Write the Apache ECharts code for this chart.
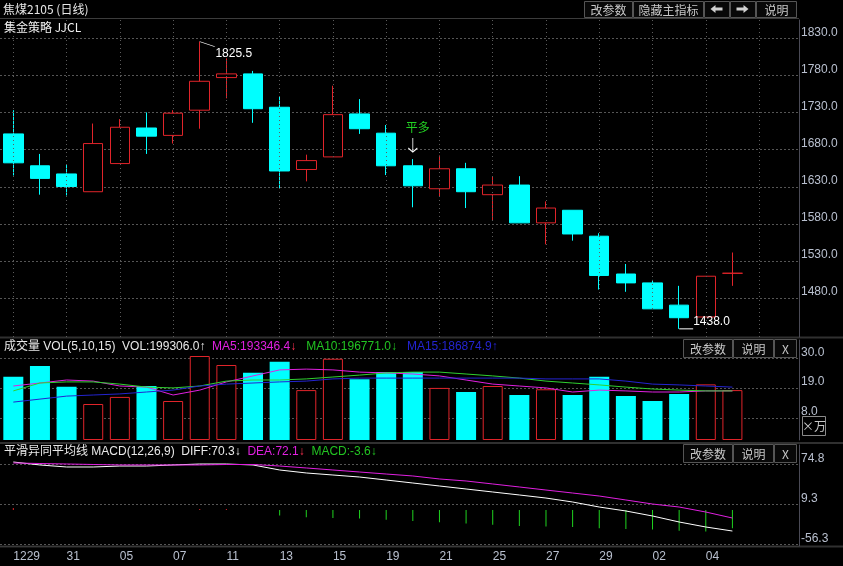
<!DOCTYPE html>
<html>
<head>
<meta charset="utf-8">
<script src="https://cdn.jsdelivr.net/npm/echarts@6/dist/echarts.min.js"></script>
<style>
html, body { margin: 0; padding: 0; background: #000; }
#main { width: 843px; height: 566px; }
</style>
</head>
<body>
<div id="main"></div>
<script>
// 日期标签 (两个空位留在右侧)
var dateLabels = ['1229', '30', '31', '04', '05', '06', '07', '08', '11', '12', '13', '14', '15', '18', '19',
    '20', '21', '22', '25', '26', '27', '28', '29', '01', '02', '03', '04', '05', '', ''];

// K线
var openP = [1701, 1658, 1647, 1623, 1661, 1709, 1699, 1733, 1777, 1782, 1737, 1653, 1670, 1728, 1702,
    1658, 1627, 1654, 1619, 1632, 1581, 1598, 1563, 1512, 1500, 1470, 1454, 1513];
var closeP = [1662, 1641, 1630, 1688, 1710, 1698, 1729, 1772, 1782, 1735, 1651, 1665, 1727, 1708, 1658,
    1631, 1654, 1623, 1632, 1581, 1601, 1566, 1510, 1500, 1465, 1453, 1509, 1513];
var highP = [1733, 1674, 1659, 1715, 1721, 1730, 1733, 1825.5, 1803, 1786, 1752, 1673, 1766, 1748, 1713,
    1667, 1672, 1662, 1644, 1644, 1610, 1598, 1567, 1525.5, 1504, 1496, 1509, 1541];
var lowP = [1645, 1619, 1618, 1623, 1661, 1674, 1688, 1708, 1749, 1716, 1627, 1637, 1670, 1701, 1645.5,
    1602, 1616, 1601, 1584, 1581, 1552, 1557, 1491, 1488, 1465, 1438, 1454, 1496];

// 成交量 (万)
var vol = [23.2, 27.1, 19.5, 13.2, 15.8, 19.8, 14.3, 30.8, 27.5, 24.7, 28.7, 18.3, 29.8, 22.3, 24.9,
    24.9, 19.1, 17.6, 19.8, 16.5, 18.6, 16.5, 23.2, 16.1, 14.3, 16.9, 20.4, 18.3];
var ma5 = [19.8, 20.9, 22.0, 21.6, 19.8, 19.4, 16.5, 18.3, 21.3, 23.5, 25.7, 26.0, 25.7, 24.9, 24.6,
    24.2, 23.5, 22.0, 20.5, 19.8, 19.1, 17.6, 18.3, 18.0, 17.6, 17.6, 18.0, 18.0];
var ma10 = [18.0, 20.9, 21.3, 21.3, 20.5, 19.4, 19.1, 19.8, 21.6, 22.0, 22.0, 22.4, 23.1, 23.8, 24.6,
    24.9, 24.9, 24.2, 23.5, 22.7, 21.6, 20.9, 20.2, 19.4, 18.7, 18.3, 18.0, 18.0];
var ma15 = [13.9, 15.0, 16.1, 16.5, 16.9, 17.6, 18.3, 19.8, 20.5, 20.9, 21.3, 21.6, 22.4, 22.7, 22.7,
    22.7, 22.7, 22.7, 22.7, 22.7, 22.4, 22.4, 22.4, 21.6, 20.5, 20.2, 19.8, 19.4];

// MACD
var diff = [78.6, 73.7, 70.4, 70.4, 72.0, 72.0, 73.7, 75.3, 75.3, 73.7, 65.5, 60.6, 57.3, 54.0, 49.1,
    44.2, 39.3, 34.4, 29.5, 24.6, 19.6, 13.1, 4.9, -1.6, -9.8, -19.6, -27.8, -34.4];
var dea = [77.0, 76.1, 75.3, 74.5, 73.7, 73.7, 73.7, 73.7, 74.5, 74.5, 72.0, 68.8, 65.5, 62.2, 58.9,
    55.7, 50.8, 47.5, 42.6, 37.7, 32.7, 27.8, 22.9, 16.4, 9.8, 4.9, -3.3, -13.1];
var macd = [3.2, 0, 0, 0, 0, 0, 0, 1.6, 1.6, 0, -9, -12, -13, -14, -16, -18, -20, -22, -24, -26,
    -27, -28, -30, -31, -32, -34, -35, -30];

// 坐标刻度
var priceTicks = [1480, 1530, 1580, 1630, 1680, 1730, 1780, 1830];
var volTicks = [8, 19, 30];
var macdTicks = [-56.3, 9.3, 74.8];
var vGridIdx = [0, 2, 4, 6, 8, 10, 12, 14, 16, 18, 20, 22, 24, 26, 28];

var RED = '#e0242a';
var CYAN = '#00ffff';
var GREEN = '#1fd31f';
var MAGENTA = '#e020e0';
var BLUE = '#2424d0';
var LABEL = '#b9c0cf';
var FONT = "'Liberation Sans', 'Noto Sans CJK SC', sans-serif";
var GRID_COLOR = '#555555';
var GRID_LINE = { color: '#5c5c5c', type: [1, 3], width: 1 };

var myChart = echarts.init(document.getElementById('main'), null, { renderer: 'canvas' });

var kData = openP.map(function(o, i) {
    return [o, closeP[i], lowP[i], highP[i]];
});

var isUp = function(i) {
    if (closeP[i] != openP[i]) {
        return closeP[i] > openP[i];
    }
    return i > 0 && closeP[i] >= closeP[i - 1];
};

var volData = vol.map(function(v, i) {
    var up = isUp(i);
    return {
        value: v,
        itemStyle: up ? { color: '#000', borderColor: RED, borderWidth: 1 } : { color: CYAN }
    };
});

var macdData = macd.map(function(v) {
    return { value: v, itemStyle: { color: v >= 0 ? RED : GREEN } };
});

// 竖网格线: 空的line系列 + markLine
var vGridSeries = {
    type: 'line',
    xAxisIndex: 0,
    yAxisIndex: 0,
    data: [],
    silent: true,
    z: 1,
    markLine: {
        silent: true,
        symbol: 'none',
        label: { show: false },
        lineStyle: GRID_LINE,
        emphasis: { disabled: true },
        data: vGridIdx.map(function(v) { return { xAxis: v }; })
    }
};

// 横网格线: custom系列, y由坐标轴换算
var hGridSeries = function(idx, ticks) {
    return {
        type: 'custom',
        xAxisIndex: idx,
        yAxisIndex: idx,
        silent: true,
        z: 1,
        clip: false,
        data: ticks.map(function(v) { return [0, v]; }),
        encode: { x: 0, y: 1 },
        renderItem: function(params, api) {
            var y = Math.round(api.coord([0, api.value(1)])[1]) + 0.5;
            var cs = params.coordSys;
            return {
                type: 'line',
                shape: { x1: cs.x, y1: y, x2: cs.x + cs.width, y2: y },
                style: { stroke: GRID_COLOR, lineWidth: 1, lineDash: [2, 2] }
            };
        }
    };
};

var makeX = function(idx, showLabel) {
    return {
        type: 'category',
        gridIndex: idx,
        data: dateLabels,
        boundaryGap: true,
        axisLine: { show: showLabel, onZero: false, lineStyle: { color: '#3a3a3a' } },
        axisTick: { show: false },
        axisLabel: {
            show: showLabel,
            interval: 1,
            align: 'left',
            color: LABEL,
            fontFamily: FONT,
            fontSize: 12,
            margin: 5
        },
        splitLine: { show: false }
    };
};

var makeY = function(idx, min, max, ticks) {
    return {
        type: 'value',
        gridIndex: idx,
        position: 'right',
        min: min,
        max: max,
        axisLine: { show: true, lineStyle: { color: '#4a4a55' } },
        axisTick: { show: false, customValues: ticks },
        axisLabel: {
            customValues: ticks,
            formatter: function(v) { return v.toFixed(1); },
            color: LABEL,
            fontFamily: FONT,
            fontSize: 12,
            margin: 2,
            verticalAlign: 'bottom'
        },
        splitLine: { show: false }
    };
};

// 按钮
var button = function(x, y, w, h, text) {
    var children = [{
        type: 'rect',
        shape: { x: x + 0.5, y: y + 0.5, width: w, height: h },
        style: { fill: '#080808', stroke: '#555', lineWidth: 1 }
    }];
    if (text) {
        children.push({
            type: 'text',
            x: x + w / 2 + 0.5,
            y: y + h / 2 + 1,
            style: { text: text, fill: '#c8c8c8', font: "12px 'Noto Sans CJK SC', sans-serif", align: 'center', verticalAlign: 'middle' }
        });
    }
    return { type: 'group', children: children };
};

var arrowBtn = function(x, dir) {
    var c = x + 12.5;
    var pts = dir < 0 ?
        [[c - 6, 9], [c - 1, 5], [c - 1, 7.5], [c + 6, 7.5], [c + 6, 10.5], [c - 1, 10.5], [c - 1, 13]] :
        [[c + 6, 9], [c + 1, 5], [c + 1, 7.5], [c - 6, 7.5], [c - 6, 10.5], [c + 1, 10.5], [c + 1, 13]];
    return {
        type: 'group',
        children: [button(x, 1, 25, 16, ''), { type: 'polygon', shape: { points: pts }, style: { fill: '#d0d0d0' } }]
    };
};

var sep = function(y) {
    return { type: 'rect', shape: { x: 0, y: y, width: 843, height: 2 }, style: { fill: '#303030' } };
};

var richStyle = {
    w: { fill: '#e8e8e8', fontFamily: FONT, fontSize: 12 },
    m: { fill: MAGENTA, fontFamily: FONT, fontSize: 12 },
    g: { fill: '#22c422', fontFamily: FONT, fontSize: 12 },
    b: { fill: BLUE, fontFamily: FONT, fontSize: 12 },
    r: { fill: '#ff3050', fontFamily: FONT, fontSize: 12 }
};

var graphics = [
    sep(336.5), sep(442), sep(545.5),
    { type: 'rect', shape: { x: 0, y: 18, width: 799, height: 1 }, style: { fill: '#3c3c3c' } },
    { type: 'text', x: 3, y: 3, style: { text: '焦煤2105 (日线)', fill: '#e6e6e6', font: "12px 'Noto Sans CJK SC', sans-serif" } },
    { type: 'text', x: 4, y: 21, style: { text: '集金策略 JJCL', fill: '#f0f0f0', font: "12px 'Noto Sans CJK SC', sans-serif" } },
    button(584, 1, 48, 16, '改参数'),
    button(633, 1, 70, 16, '隐藏主指标'),
    arrowBtn(704, -1),
    arrowBtn(730, 1),
    button(756, 1, 40, 16, '说明'),
    {
        type: 'text', x: 4, y: 341,
        style: {
            text: '{w|成交量 VOL(5,10,15)  VOL:199306.0↑}  {m|MA5:193346.4}{r|↓}   {g|MA10:196771.0↓}   {b|MA15:186874.9↑}',
            fill: '#e8e8e8',
            font: "12px 'Liberation Sans', 'Noto Sans CJK SC', sans-serif",
            rich: richStyle
        }
    },
    button(683, 339, 49, 18, '改参数'),
    button(733, 339, 40, 18, '说明'),
    button(774, 339, 22, 18, 'X'),
    {
        type: 'group',
        children: [
            { type: 'rect', shape: { x: 802.5, y: 416.5, width: 23, height: 19 }, style: { fill: 'none', stroke: '#8a8a8a', lineWidth: 1 } },
            { type: 'text', x: 814, y: 426.5, style: { text: '×万', fill: '#c8c8c8', font: "12px 'Noto Sans CJK SC', sans-serif", align: 'center', verticalAlign: 'middle' } }
        ]
    },
    {
        type: 'text', x: 4, y: 446,
        style: {
            text: '{w|平滑异同平均线 MACD(12,26,9)  DIFF:70.3↓}  {m|DEA:72.1}{r|↓}  {g|MACD:-3.6↓}',
            fill: '#e8e8e8',
            font: "12px 'Liberation Sans', 'Noto Sans CJK SC', sans-serif",
            rich: richStyle
        }
    },
    button(683, 444, 49, 18, '改参数'),
    button(733, 444, 40, 18, '说明'),
    button(774, 444, 22, 18, 'X')
];

var series = [
    vGridSeries,
    hGridSeries(0, priceTicks),
    hGridSeries(1, volTicks),
    hGridSeries(2, macdTicks),
    {
        type: 'candlestick',
        xAxisIndex: 0,
        yAxisIndex: 0,
        barWidth: 20,
        clip: false,
        data: kData,
        z: 3,
        itemStyle: {
            color: '#000',
            color0: CYAN,
            borderColor: RED,
            borderColor0: CYAN,
            borderWidth: 1
        },
        markPoint: {
            silent: true,
            data: [{
                coord: [7, highP[7]],
                symbol: 'path://M0,0L15,5',
                symbolSize: [15, 5],
                symbolOffset: [7.5, 2.5],
                itemStyle: { color: 'none', borderColor: '#fff', borderWidth: 1 },
                label: { show: true, formatter: highP[7].toFixed(1), position: [20, 7], color: '#fff', fontFamily: FONT, fontSize: 12 }
            }, {
                coord: [25, lowP[25]],
                symbol: 'rect',
                symbolSize: [14, 1],
                symbolOffset: [7, 0],
                itemStyle: { color: '#fff' },
                label: { show: true, formatter: lowP[25].toFixed(1), position: [14, -13], color: '#fff', fontFamily: FONT, fontSize: 12 }
            }, {
                coord: [15, highP[15]],
                symbol: 'path://M5,0L5,14M1,10L5,14L9,10',
                symbolSize: [9, 14],
                symbolOffset: [0, -14],
                itemStyle: { color: 'none', borderColor: '#fff', borderWidth: 1 },
                label: { show: true, formatter: '平多', position: 'top', distance: 2, offset: [5, 0], color: '#22d022', fontFamily: "'Noto Sans CJK SC', sans-serif", fontSize: 12 }
            }]
        }
    }, {
        type: 'bar',
        xAxisIndex: 1,
        yAxisIndex: 1,
        barWidth: 20,
        z: 3,
        data: volData
    }, {
        type: 'line', xAxisIndex: 1, yAxisIndex: 1, data: ma5, symbol: 'none', z: 4,
        lineStyle: { color: MAGENTA, width: 1 }
    }, {
        type: 'line', xAxisIndex: 1, yAxisIndex: 1, data: ma10, symbol: 'none', z: 4,
        lineStyle: { color: '#30d030', width: 1 }
    }, {
        type: 'line', xAxisIndex: 1, yAxisIndex: 1, data: ma15, symbol: 'none', z: 4,
        lineStyle: { color: BLUE, width: 1 }
    }, {
        type: 'bar',
        xAxisIndex: 2,
        yAxisIndex: 2,
        barWidth: 1,
        z: 3,
        data: macdData
    }, {
        type: 'line', xAxisIndex: 2, yAxisIndex: 2, data: diff, symbol: 'none', z: 4,
        lineStyle: { color: '#ffffff', width: 1 }
    }, {
        type: 'line', xAxisIndex: 2, yAxisIndex: 2, data: dea, symbol: 'none', z: 4,
        lineStyle: { color: MAGENTA, width: 1 }
    }
];

var option = {
    backgroundColor: '#000',
    animation: false,
    grid: [
        { left: 0, right: 44, top: 20, height: 317 },
        { left: 0, right: 44, top: 340, height: 100 },
        { left: 0, right: 44, top: 445, height: 101 }
    ],
    xAxis: [makeX(0, false), makeX(1, false), makeX(2, true)],
    yAxis: [
        makeY(0, 1427, 1854.7, priceTicks),
        makeY(1, 0, 36.67, volTicks),
        makeY(2, -58.9, 106.4, macdTicks)
    ],
    graphic: graphics,
    series: series
};

myChart.setOption(option);
</script>
</body>
</html>
